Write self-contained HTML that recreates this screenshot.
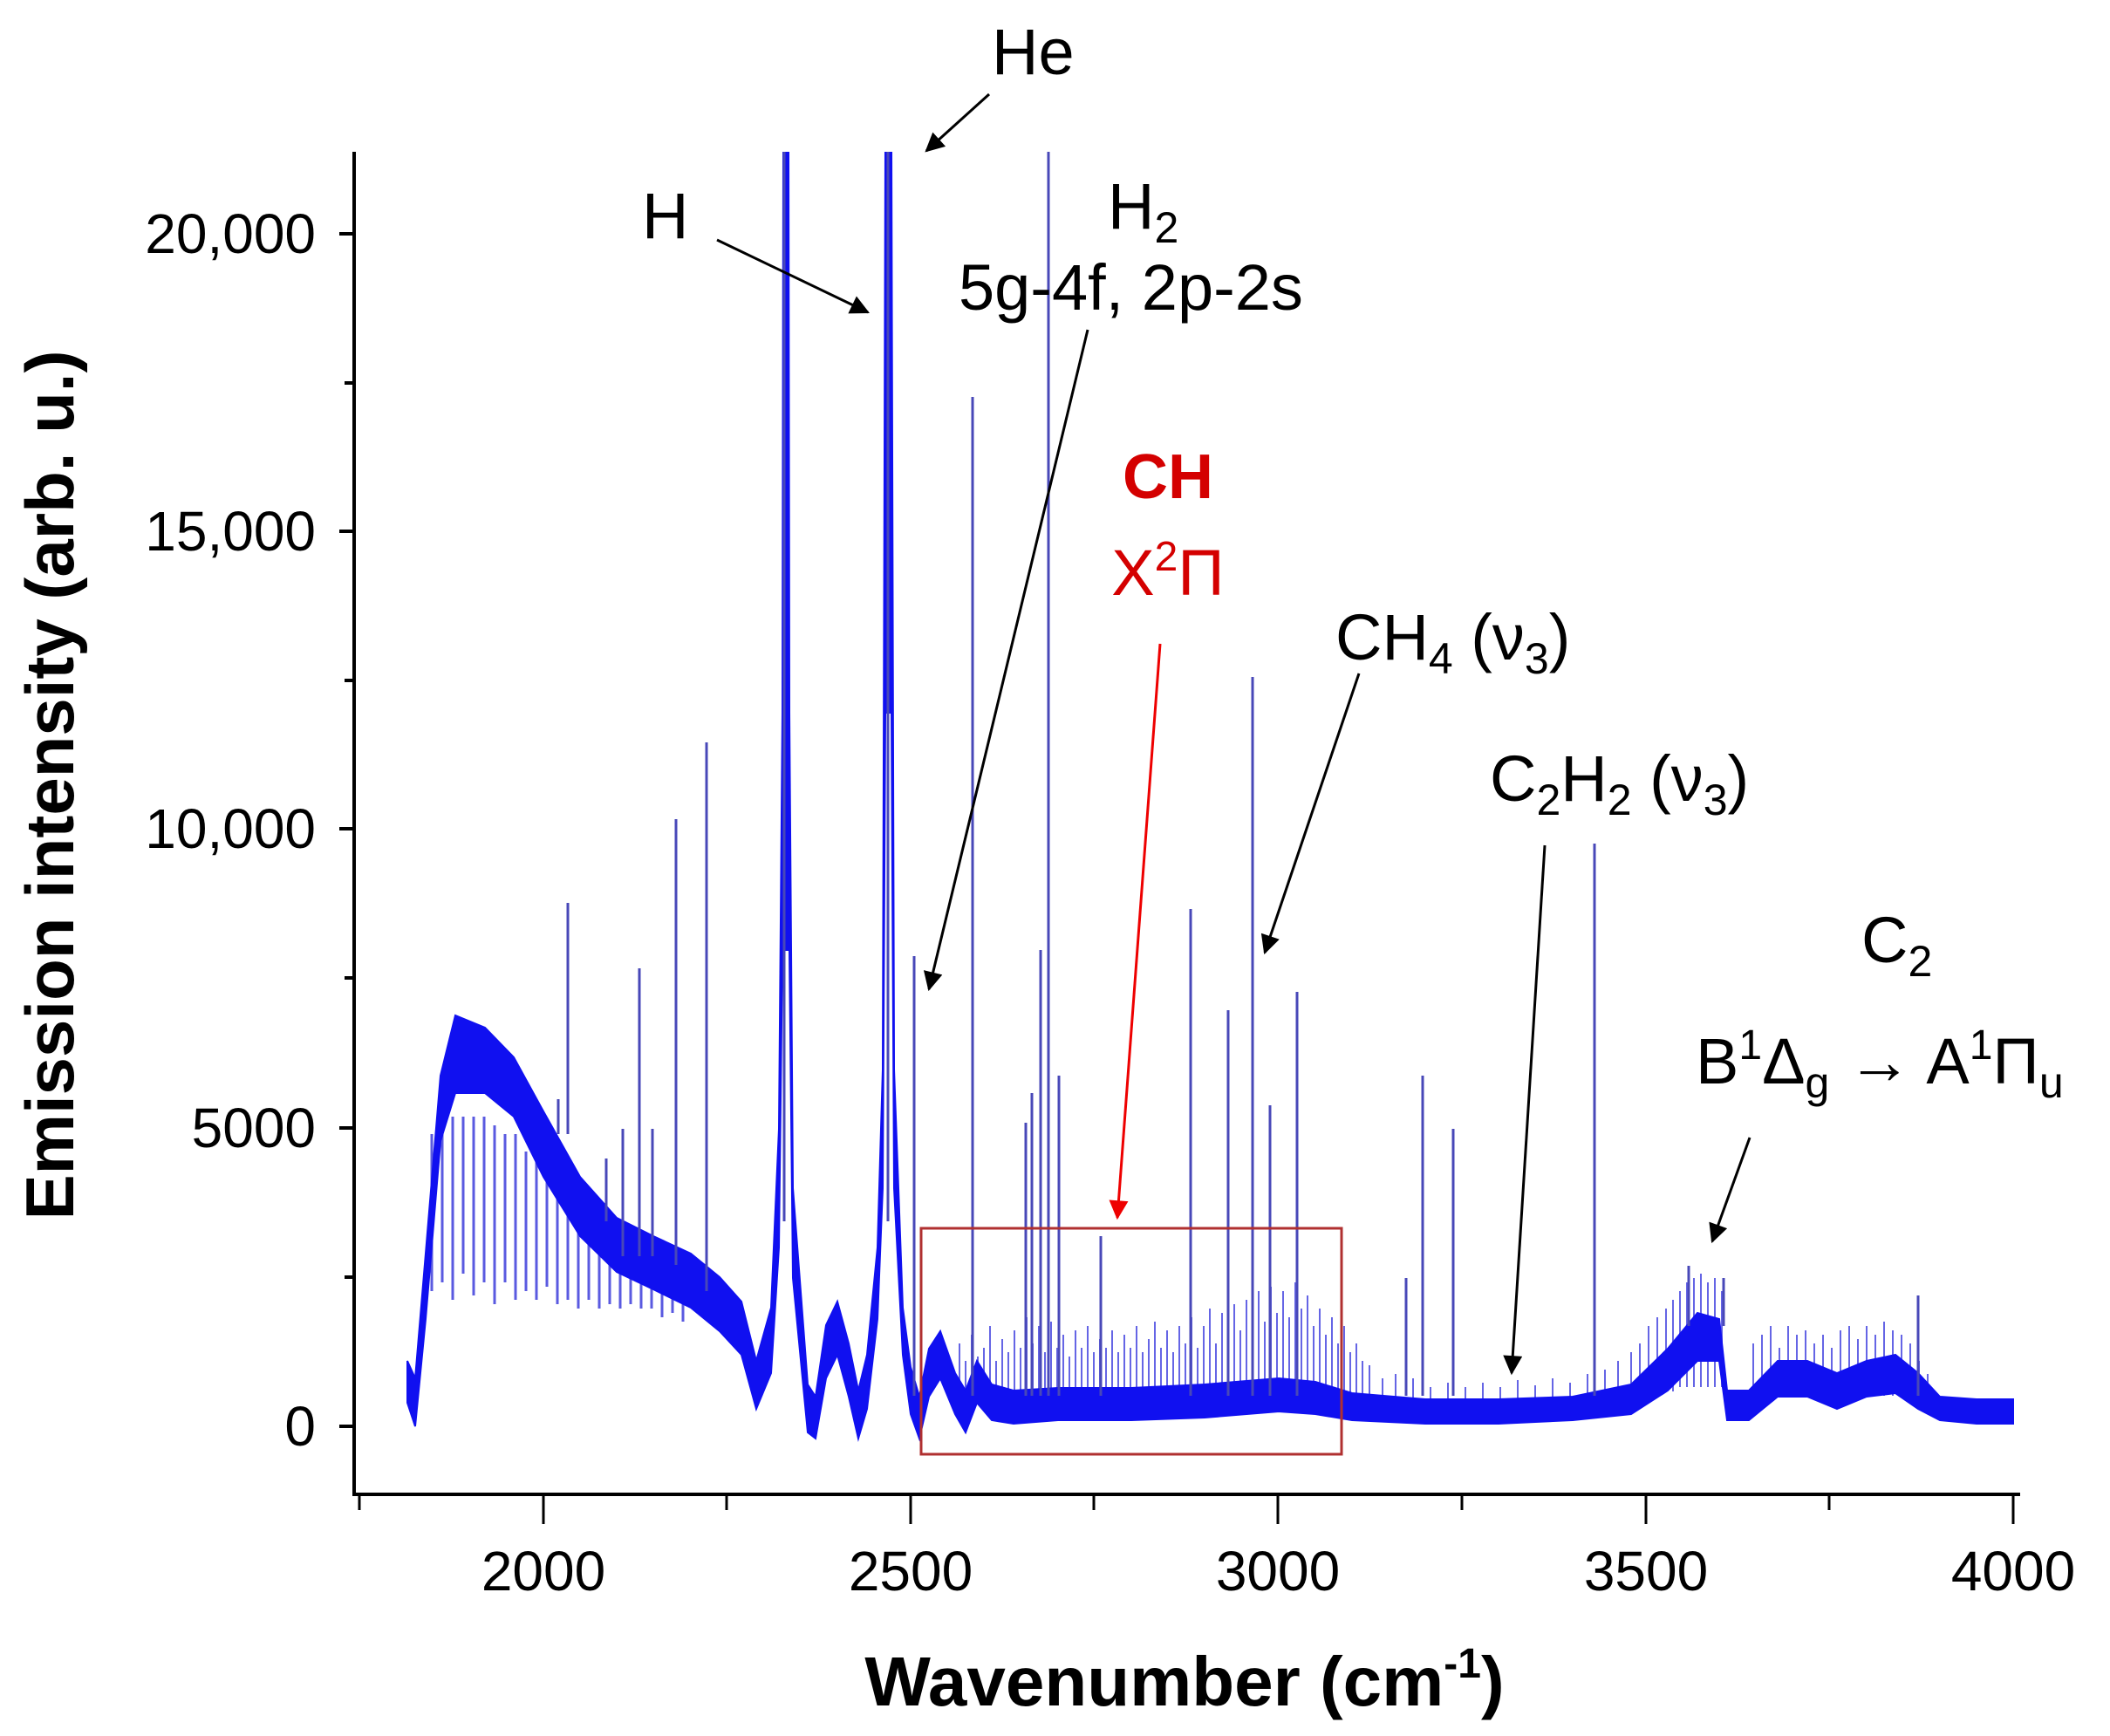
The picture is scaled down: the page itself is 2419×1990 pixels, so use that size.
<!DOCTYPE html>
<html><head><meta charset="utf-8"><style>
html,body{margin:0;padding:0;background:#fff;}
svg{display:block;}
text{font-family:"Liberation Sans",Arial,sans-serif;}
</style></head><body>
<svg width="2419" height="1990" viewBox="0 0 2419 1990" xmlns="http://www.w3.org/2000/svg">
<defs>
<clipPath id="cp"><rect x="407" y="174" width="1910" height="1538"/></clipPath>
<marker id="ahk" viewBox="0 0 10 10" refX="9" refY="5" markerWidth="30" markerHeight="22" orient="auto" markerUnits="userSpaceOnUse"><path d="M0,0 L10,5 L0,10 z" fill="#000"/></marker>
<marker id="ahr" viewBox="0 0 10 10" refX="9" refY="5" markerWidth="30" markerHeight="22" orient="auto" markerUnits="userSpaceOnUse"><path d="M0,0 L10,5 L0,10 z" fill="#e00"/></marker>
</defs>
<g clip-path="url(#cp)">
<!-- comb lines early region -->
<path stroke="#5a5ae0" stroke-width="3" fill="none" d="M495,1300V1480 M507,1300V1470 M519,1280V1490 M531,1280V1460 M543,1280V1485 M555,1280V1470 M567,1290V1495 M579,1300V1470 M591,1300V1490 M603,1320V1480 M615,1330V1490 M627,1340V1475 M639,1350V1495 M651,1360V1490 M663,1370V1500 M675,1380V1490 M687,1390V1500 M699,1400V1495 M711,1420V1500 M723,1430V1495 M735,1430V1500 M747,1440V1500 M759,1440V1510 M771,1450V1505 M783,1460V1515"/>
<!-- grass -->
<path stroke="#4a4ae0" stroke-width="2" fill="none" opacity="0.85" d="M1100,1600V1540 M1107,1600V1560 M1114,1600V1530 M1121,1600V1555 M1128,1600V1545 M1135,1600V1520 M1142,1600V1560 M1149,1600V1535 M1156,1600V1550 M1163,1600V1525 M1170,1600V1545 M1177,1600V1510 M1184,1600V1540 M1191,1600V1520 M1198,1600V1550 M1205,1600V1515 M1212,1600V1545 M1219,1600V1530 M1226,1600V1555 M1233,1600V1525 M1240,1600V1545 M1247,1600V1520 M1254,1600V1550 M1261,1600V1535 M1268,1600V1545 M1275,1600V1525 M1282,1600V1550 M1289,1600V1530 M1296,1600V1545 M1303,1600V1520 M1310,1600V1550 M1317,1600V1535 M1324,1600V1515 M1331,1600V1545 M1338,1600V1525 M1345,1600V1550 M1352,1600V1520 M1359,1600V1540 M1366,1600V1510 M1373,1600V1545 M1380,1600V1520 M1387,1600V1500 M1394,1600V1540 M1401,1600V1505 M1408,1600V1530 M1415,1600V1495 M1422,1600V1525 M1429,1600V1490 M1436,1600V1520 M1443,1600V1480 M1450,1600V1515 M1457,1600V1475 M1464,1600V1505 M1471,1600V1480 M1478,1600V1510 M1485,1600V1470 M1492,1600V1500 M1499,1600V1485 M1506,1600V1520 M1513,1600V1500 M1520,1600V1530 M1527,1600V1510 M1534,1600V1540 M1541,1600V1520 M1548,1600V1550 M1555,1600V1540 M1562,1600V1560 M1570,1605V1565 M1585,1605V1580 M1600,1605V1575 M1620,1610V1580 M1640,1610V1590 M1660,1610V1585 M1680,1610V1590 M1700,1610V1585 M1720,1610V1590 M1740,1610V1582 M1760,1610V1588 M1780,1610V1580 M1800,1610V1585 M1820,1605V1575 M1840,1605V1570 M1855,1600V1560 M1870,1600V1550 M1880,1600V1540 M1890,1600V1520 M1900,1600V1510 M1910,1595V1500 M1918,1595V1490 M1926,1590V1480 M1934,1590V1470 M1942,1590V1465 M1950,1590V1460 M1958,1590V1470 M1966,1590V1465 M1974,1590V1480 M2010,1600V1540 M2020,1600V1530 M2030,1600V1520 M2040,1600V1545 M2050,1600V1520 M2060,1600V1530 M2070,1600V1525 M2080,1600V1540 M2090,1600V1530 M2100,1600V1545 M2110,1600V1525 M2120,1600V1520 M2130,1600V1535 M2140,1600V1520 M2150,1600V1530 M2160,1600V1515 M2170,1600V1525 M2180,1600V1530 M2190,1600V1540 M2200,1600V1560 M2210,1605V1575"/>
<!-- main band -->
<polygon fill="#1010f0" stroke="#1010f0" stroke-width="2" points="467,1560 476,1580 488,1437 505,1233 522,1164 556,1178 589,1212 623,1274 665,1349 707,1396 749,1417 792,1437 825,1464 850,1492 867,1560 884,1499 893,1294 897,817 898,169 904,169 905,817 909,1362 926,1587 935,1601 947,1519 960,1492 973,1540 984,1594 994,1553 1006,1430 1012,1226 1015,169 1022,169 1025,1226 1035,1499 1044,1567 1054,1601 1065,1546 1078,1526 1095,1574 1107,1594 1120,1560 1137,1587 1162,1594 1213,1591 1297,1591 1381,1587 1466,1580 1508,1584 1550,1597 1634,1604 1718,1604 1803,1601 1870,1587 1912,1546 1946,1505 1971,1512 1980,1594 2005,1594 2038,1560 2072,1560 2106,1574 2140,1560 2173,1553 2199,1574 2224,1601 2266,1604 2308,1604 2308,1632 2266,1632 2224,1628 2199,1615 2173,1597 2140,1601 2106,1615 2072,1601 2038,1601 2005,1628 1980,1628 1971,1560 1946,1560 1912,1594 1870,1621 1803,1628 1718,1632 1634,1632 1550,1628 1508,1621 1466,1618 1381,1625 1297,1628 1213,1628 1162,1632 1137,1628 1120,1608 1107,1642 1095,1621 1078,1580 1065,1601 1054,1649 1044,1621 1035,1553 1025,1362 1022,817 1015,817 1012,1362 1006,1512 994,1615 984,1649 973,1601 960,1553 947,1580 935,1649 926,1642 909,1465 905,1089 897,1089 893,1430 884,1574 867,1615 850,1553 825,1526 792,1499 749,1478 707,1458 665,1417 623,1349 589,1280 556,1253 522,1253 505,1308 488,1512 476,1635 467,1608"/>
<!-- sharp lines -->
<path stroke="#4848b8" stroke-width="3" fill="none" d="M651,1300V1035 M714,1440V1294 M733,1440V1110 M748,1440V1294 M775,1450V939 M810,1480V851 M899,1400V174 M1018,1400V174 M1048,1600V1096 M1115,1600V455 M1176,1600V1287 M1183,1600V1253 M1193,1600V1089 M1202,1600V174 M1214,1600V1233 M1262,1600V1417 M1365,1600V1042 M1408,1600V1158 M1436,1600V776 M1456,1600V1267 M1487,1600V1137 M1612,1600V1465 M1631,1600V1233 M1666,1600V1294 M1828,1600V967 M1936,1520V1451 M1976,1520V1465 M2199,1600V1485 M640,1300V1260 M695,1400V1328"/>
</g>
<!-- axes -->
<g stroke="#000" stroke-width="4" fill="none">
<line x1="406" y1="174" x2="406" y2="1714"/>
<line x1="404" y1="1713" x2="2316" y2="1713"/>
<line x1="389" y1="268" x2="406" y2="268"/>
<line x1="389" y1="609" x2="406" y2="609"/>
<line x1="389" y1="950" x2="406" y2="950"/>
<line x1="389" y1="1293" x2="406" y2="1293"/>
<line x1="389" y1="1635" x2="406" y2="1635"/>
<line x1="395" y1="439" x2="406" y2="439"/>
<line x1="395" y1="780" x2="406" y2="780"/>
<line x1="395" y1="1121" x2="406" y2="1121"/>
<line x1="395" y1="1464" x2="406" y2="1464"/>
</g>
<path stroke="#000" stroke-width="3" fill="none" d="M412,1713V1731 M623,1713V1747 M833,1713V1731 M1044,1713V1747 M1254,1713V1731 M1465,1713V1747 M1676,1713V1731 M1887,1713V1747 M2097,1713V1731 M2308,1713V1747"/>
<g font-size="64" fill="#000" text-anchor="end">
<text x="362" y="290">20,000</text>
<text x="362" y="631">15,000</text>
<text x="362" y="972">10,000</text>
<text x="362" y="1315">5000</text>
<text x="362" y="1657">0</text>
</g>
<g font-size="64" fill="#000" text-anchor="middle">
<text x="623" y="1823">2000</text>
<text x="1044" y="1823">2500</text>
<text x="1465" y="1823">3000</text>
<text x="1887" y="1823">3500</text>
<text x="2308" y="1823">4000</text>
</g>
<text x="1358" y="1955" font-size="80" font-weight="bold" text-anchor="middle">Wavenumber (cm<tspan font-size="48" dy="-32">-1</tspan><tspan dy="32">)</tspan></text>
<text transform="translate(84,900) rotate(-90)" font-size="78" font-weight="bold" text-anchor="middle">Emission intensity (arb. u.)</text>
<g font-size="74" fill="#000">
<text x="1137" y="85">He</text>
<text x="736" y="273">H</text>
<text x="1270" y="262">H<tspan font-size="50" dy="16">2</tspan></text>
<text x="1099" y="355">5g-4f, 2p-2s</text>
<text x="1531" y="756">CH<tspan font-size="50" dy="16">4</tspan><tspan dy="-16"> (ν</tspan><tspan font-size="50" dy="16">3</tspan><tspan dy="-16">)</tspan></text>
<text x="1708" y="918">C<tspan font-size="50" dy="16">2</tspan><tspan dy="-16">H</tspan><tspan font-size="50" dy="16">2</tspan><tspan dy="-16"> (ν</tspan><tspan font-size="50" dy="16">3</tspan><tspan dy="-16">)</tspan></text>
<text x="2134" y="1103">C<tspan font-size="50" dy="16">2</tspan></text>
<text x="1944" y="1242">B<tspan font-size="48" dy="-28">1</tspan><tspan dy="28">Δ</tspan><tspan font-size="50" dy="16">g</tspan><tspan dy="-16"> → A</tspan><tspan font-size="48" dy="-28">1</tspan><tspan dy="28">Π</tspan><tspan font-size="50" dy="16">u</tspan></text>
</g>
<text x="1339" y="571" font-size="72" font-weight="bold" fill="#d40000" text-anchor="middle">CH</text>
<text x="1339" y="682" font-size="74" fill="#d40000" text-anchor="middle">X<tspan font-size="48" dy="-28">2</tspan><tspan dy="28">Π</tspan></text>
<g stroke="#000" stroke-width="3" fill="none">
<line x1="1134" y1="108" x2="1062" y2="173" marker-end="url(#ahk)"/>
<line x1="822" y1="275" x2="995" y2="358" marker-end="url(#ahk)"/>
<line x1="1247" y1="378" x2="1065" y2="1134" marker-end="url(#ahk)"/>
<line x1="1558" y1="772" x2="1450" y2="1092" marker-end="url(#ahk)"/>
<line x1="1771" y1="969" x2="1733" y2="1574" marker-end="url(#ahk)"/>
<line x1="2006" y1="1304" x2="1963" y2="1423" marker-end="url(#ahk)"/>
</g>
<line x1="1330" y1="738" x2="1281" y2="1396" stroke="#e00" stroke-width="3" marker-end="url(#ahr)"/>
<rect x="1056" y="1408" width="482" height="259" fill="none" stroke="#b03030" stroke-width="3"/>
</svg>
</body></html>
